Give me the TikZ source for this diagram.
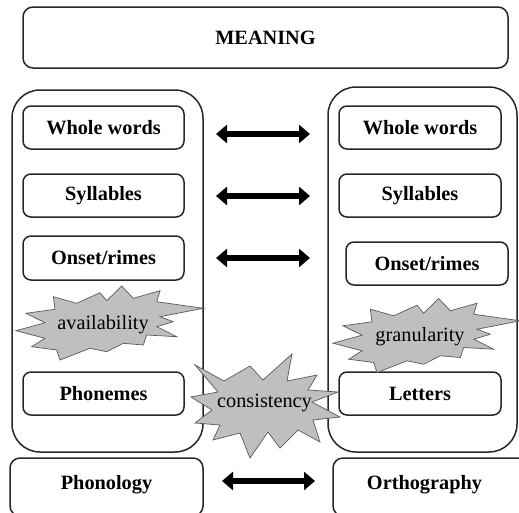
\documentclass[tikz,border=0pt]{standalone}
\usepackage{fontspec}
\setmainfont{Liberation Serif}
\usetikzlibrary{arrows.meta}
\newcommand\myburstpath{(16,330.7) -- (45,322.7) -- (26,313.3) -- (55,309.3) -- (53.3,296.7) -- (76.7,303.3) -- (100,292.7) -- (106.7,300.7) -- (121.7,286) -- (133.3,298.3) -- (160,290.7) -- (156.7,301.7) -- (203.3,308.3) -- (160,316.7) -- (173.3,321.7) -- (156.7,326.7) -- (176.7,336.7) -- (146.7,335) -- (143.3,345) -- (123.3,343.3) -- (106.7,351.7) -- (90,348.3) -- (60,360) -- (56.7,350) -- (31.7,346.7) -- (45,338.3) -- cycle}
\tikzset{
  box/.style={draw=black!85, line width=1.5pt, rounded corners=8pt, inner sep=0pt,
    font=\fontsize{20.3}{24}\selectfont\bfseries},
  bigbox/.style={draw=black!85, line width=1.5pt, rounded corners=28pt, inner sep=0pt},
  lbl/.style={font=\fontsize{20.3}{24}\selectfont\bfseries, inner sep=0pt},
  burst/.style={draw=black!65, fill=black!25, line width=0.7pt, line join=miter},
  bursttext/.style={font=\fontsize{20.3}{24}\selectfont, inner sep=0pt, text=black},
  dblarrow/.style={line width=5.5pt, {Triangle[length=11pt,width=18pt]}-{Triangle[length=11pt,width=18pt]}}
}
\begin{document}
\begin{tikzpicture}[x=1pt,y=-1pt]
\useasboundingbox (0,0) rectangle (519,512);
\clip (0,0) rectangle (519,512);
% top box
\node[box, rounded corners=10pt, minimum width=485pt, minimum height=61pt] (meaning) at (265.5,37.5) {MEANING};
% big containers
\node[bigbox, minimum width=191pt, minimum height=362pt] (lbig) at (107.5,271) {};
\node[bigbox, minimum width=189pt, minimum height=365pt] (rbig) at (422.5,269.5) {};
% left column
\node[box, minimum width=161pt, minimum height=43pt] (lww) at (103.5,127.5) {Whole words};
\node[box, minimum width=161pt, minimum height=43pt] (lsy) at (103.5,195.5) {Syllables};
\node[box, minimum width=161pt, minimum height=44pt] (lon) at (103.5,258) {Onset/rimes};
\node[box, minimum width=161pt, minimum height=43pt] (lph) at (103.5,393.5) {Phonemes};
% right column
\node[box, minimum width=162pt, minimum height=43pt] (rww) at (420,127.5) {Whole words};
\node[box, minimum width=162pt, minimum height=43pt] (rsy) at (420,195.5) {Syllables};
\node[box, minimum width=162pt, minimum height=43pt] (ron) at (427,263.5) {Onset/rimes};
\node[box, minimum width=162pt, minimum height=43pt] (rle) at (420,393.5) {Letters};
% bottom boxes
\node[box, rounded corners=10pt, minimum width=193pt, minimum height=58pt] (phon) at (106.5,487) {};
\node[lbl] (phontxt) at (106.5,485) {Phonology};
\node[box, rounded corners=10pt, minimum width=202pt, minimum height=58pt] (orth) at (434,487) {};
\node[lbl] (orthtxt) at (424.5,485) {Orthography};
% arrows
\coordinate (a1l) at (216,134); \coordinate (a1r) at (310,134);
\coordinate (a2l) at (216,196); \coordinate (a2r) at (310,196);
\coordinate (a3l) at (216,258); \coordinate (a3r) at (310,258);
\coordinate (a4l) at (222,481); \coordinate (a4r) at (315,481);
\draw[dblarrow] (a1l) -- (a1r);
\draw[dblarrow] (a2l) -- (a2r);
\draw[dblarrow] (a3l) -- (a3r);
\draw[dblarrow] (a4l) -- (a4r);
% bursts
\draw[burst] \myburstpath;
\node[bursttext] (avail) at (103,325) {availability};
\draw[burst, shift={(317,12.5)}] \myburstpath;
\node[bursttext] (gran) at (420,337) {granularity};
\draw[burst] (195,365) -- (224,381) -- (250,366) -- (263,380) -- (292,354) -- (287,381) -- (317,375) -- (308,390) -- (338,392) -- (312,402) -- (340,417) -- (313,420) -- (320,442) -- (298,430) -- (280,448) -- (268,432) -- (250,458) -- (240,433) -- (213,440) -- (220,425) -- (195,423) -- (212,410) -- (191,397) -- (218,392) -- cycle;
\node[bursttext] (cons) at (264.5,403) {consistency};
\end{tikzpicture}
\end{document}
